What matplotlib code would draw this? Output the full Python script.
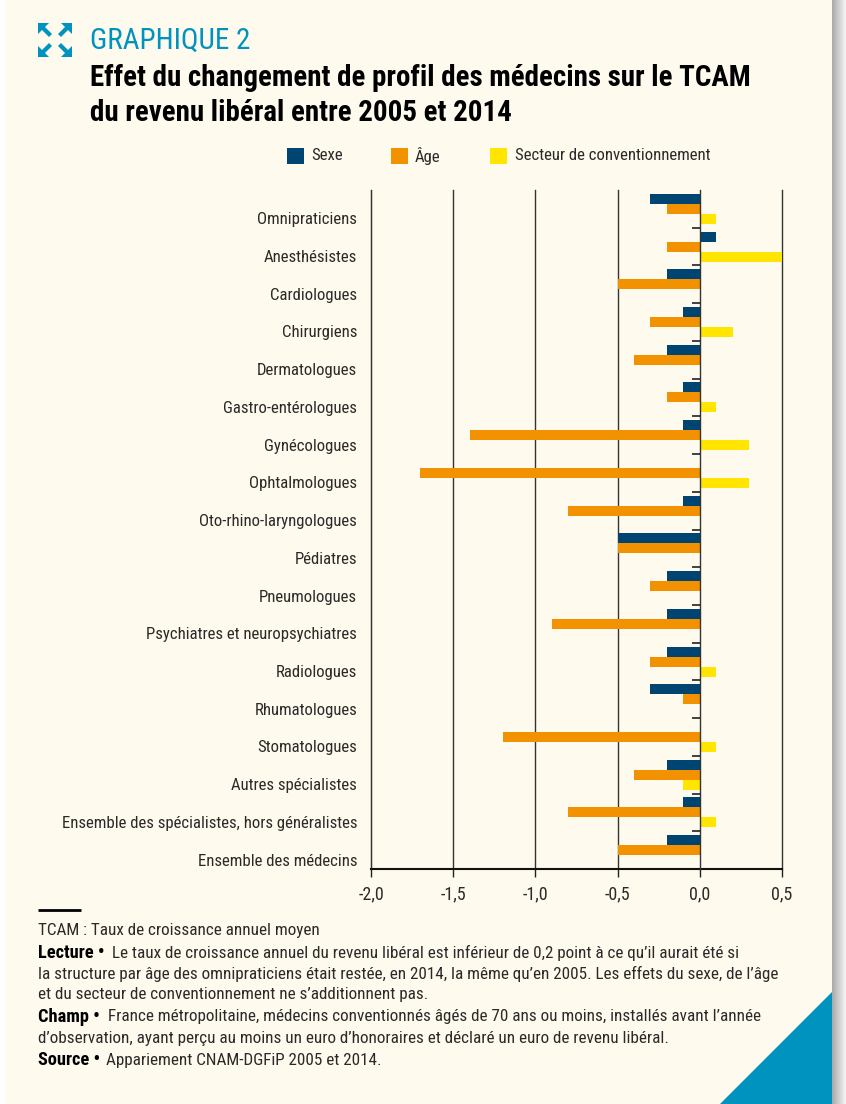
import matplotlib
matplotlib.use('Agg')
import numpy as np
import matplotlib.pyplot as plt
from matplotlib.patches import Polygon, Rectangle
from matplotlib import font_manager as fm

# condensed face closest to the original, Liberation Sans if it is not there
installed = {f.name for f in fm.fontManager.ttflist}
NARROW = [f for f in ['Roboto Condensed', 'Archivo Narrow', 'PT Sans Narrow', 'Liberation Sans'] if f in installed]
plt.rcParams['font.family'] = NARROW + ['DejaVu Sans']

# -------------------------------
# Data
# -------------------------------
categories = ['Omnipraticiens', 'Anesthésistes', 'Cardiologues', 'Chirurgiens',
              'Dermatologues', 'Gastro-entérologues', 'Gynécologues', 'Ophtalmologues',
              'Oto-rhino-laryngologues', 'Pédiatres', 'Pneumologues',
              'Psychiatres et neuropsychiatres', 'Radiologues', 'Rhumatologues',
              'Stomatologues', 'Autres spécialistes',
              'Ensemble des spécialistes, hors généralistes', 'Ensemble des médecins']
sexe = [-0.3, 0.1, -0.2, -0.1, -0.2, -0.1, -0.1, 0, -0.1, -0.5, -0.2, -0.2, -0.2, -0.3, 0, -0.2, -0.1, -0.2]
age = [-0.2, -0.2, -0.5, -0.3, -0.4, -0.2, -1.4, -1.7, -0.8, -0.5, -0.3, -0.9, -0.3, -0.1, -1.2, -0.4, -0.8, -0.5]
secteur = [0.1, 0.5, 0, 0.2, 0, 0.1, 0.3, 0.3, 0, 0, 0, 0, 0.1, 0, 0.1, -0.1, 0.1, 0]
xticks = [-2.0, -1.5, -1.0, -0.5, 0.0, 0.5]
xticklabels = ['-2,0', '-1,5', '-1,0', '-0,5', '0,0', '0,5']

NAVY = '#004571'
ORANGE = '#F39200'
YELLOW = '#FFE500'
BLUE = '#0093BF'
CREAM = '#FEFAEE'
TXT = '#2b2a29'

W, H = 846, 1104
fig = plt.figure(figsize=(W / 100, H / 100), dpi=100, facecolor='white')

# page background, pixel coordinates
bg = fig.add_axes([0, 0, 1, 1])
bg.set_xlim(0, W)
bg.set_ylim(H, 0)
bg.axis('off')
bg.add_patch(Rectangle((5, 0), 827, H, color=CREAM, lw=0))
for i in range(14):
    g = 0.67 + 0.022 * i
    bg.add_patch(Rectangle((832 + i, 0), 1, H, color=(g, g, g), lw=0))
bg.add_patch(Polygon([(720, H), (832, 992), (832, H)], color=BLUE, lw=0))

# icon: four arrows pointing outwards
for sx, sy in [(-1, -1), (1, -1), (-1, 1), (1, 1)]:
    cx, cy = 55, 40
    pts = [(17, 17), (6, 17), (10, 13), (3, 6), (6, 3), (13, 10), (17, 6)]
    bg.add_patch(Polygon([(cx + sx * a, cy + sy * b) for a, b in pts], color=BLUE, lw=0))

bg.text(90, 41, 'GRAPHIQUE 2', fontsize=21, color=BLUE, va='center', ha='left')
bg.text(90, 78, 'Effet du changement de profil des médecins sur le TCAM',
        fontsize=20.9, fontweight='bold', color='black', va='center')
bg.text(90, 113, 'du revenu libéral entre 2005 et 2014',
        fontsize=20.9, fontweight='bold', color='black', va='center')

# legend
for x0, col, lab, tx in [(287, NAVY, 'Sexe', 311), (391, ORANGE, 'Âge', 415), (490, YELLOW, 'Secteur de conventionnement', 515)]:
    bg.add_patch(Rectangle((x0, 148), 17, 16, color=col, lw=0))
    bg.text(tx, 156, lab, fontsize=12.1, color=TXT, va='center')

# -------------------------------
# Bars
# -------------------------------
left, right, top, bottom = 371, 782, 190, 869
ax = fig.add_axes([left / W, 1 - bottom / H, (right - left) / W, (bottom - top) / H])
ax.patch.set_alpha(0)
y = np.arange(len(categories)) + 0.5
h = 10 / 37.7
ax.barh(y - h, sexe, height=h, color=NAVY, zorder=3)
ax.barh(y, age, height=h, color=ORANGE, zorder=3)
ax.barh(y + h, secteur, height=h, color=YELLOW, zorder=3)

ax.set_xlim(-2.0, 0.5)
ax.set_ylim(len(categories), 0)
ax.set_xticks(xticks)
ax.set_xticklabels(xticklabels, fontsize=13, color=TXT)
ax.tick_params(axis='x', length=6, width=1, color='#222222', pad=6)
ax.set_axisbelow(False)
for xv in xticks:
    # zero line stays on top of the bars, the others go under
    ax.axvline(xv, color='#333333', lw=1, zorder=4 if xv == 0 else 2.5, clip_on=False)

# labels sit a bit under the middle of each band
ax.set_yticks(y + 0.25)
ax.set_yticklabels(categories, fontsize=12.05, color=TXT)
ax.tick_params(axis='y', length=0, pad=10)

for s in ['top', 'right']:
    ax.spines[s].set_visible(False)
ax.spines['left'].set_color('#333333')
ax.spines['bottom'].set_color('#111111')
ax.spines['bottom'].set_linewidth(1.5)

# small separators left of the zero line
ax.hlines(np.arange(1, len(categories)), -0.05, 0, color='#222222', lw=1.2, zorder=5)

# -------------------------------
# Notes
# -------------------------------
bg.plot([38, 81], [910, 910], color='black', lw=2, solid_capstyle='butt')
NOTE = 12.3
BOLD = 13.2
bg.text(38, 931, 'TCAM : Taux de croissance annuel moyen', fontsize=NOTE, color=TXT, va='center')
bg.text(38, 953, 'Lecture •', fontsize=BOLD, fontweight='bold', color='black', va='center')
bg.text(112, 953, 'Le taux de croissance annuel du revenu libéral est inférieur de 0,2 point à ce qu’il aurait été si',
        fontsize=NOTE, color=TXT, va='center')
bg.text(38, 974, 'la structure par âge des omnipraticiens était restée, en 2014, la même qu’en 2005. Les effets du sexe, de l’âge',
        fontsize=NOTE, color=TXT, va='center')
bg.text(38, 995, 'et du secteur de conventionnement ne s’additionnent pas.', fontsize=NOTE, color=TXT, va='center')
bg.text(38, 1017, 'Champ •', fontsize=BOLD, fontweight='bold', color='black', va='center')
bg.text(108, 1017, 'France métropolitaine, médecins conventionnés âgés de 70 ans ou moins, installés avant l’année',
        fontsize=NOTE, color=TXT, va='center')
bg.text(38, 1038, 'd’observation, ayant perçu au moins un euro d’honoraires et déclaré un euro de revenu libéral.',
        fontsize=NOTE, color=TXT, va='center')
bg.text(38, 1060, 'Source •', fontsize=BOLD, fontweight='bold', color='black', va='center')
bg.text(106, 1060, 'Appariement CNAM-DGFiP 2005 et 2014.', fontsize=NOTE, color=TXT, va='center')

fig.savefig('out.png', dpi=100, facecolor=fig.get_facecolor())
